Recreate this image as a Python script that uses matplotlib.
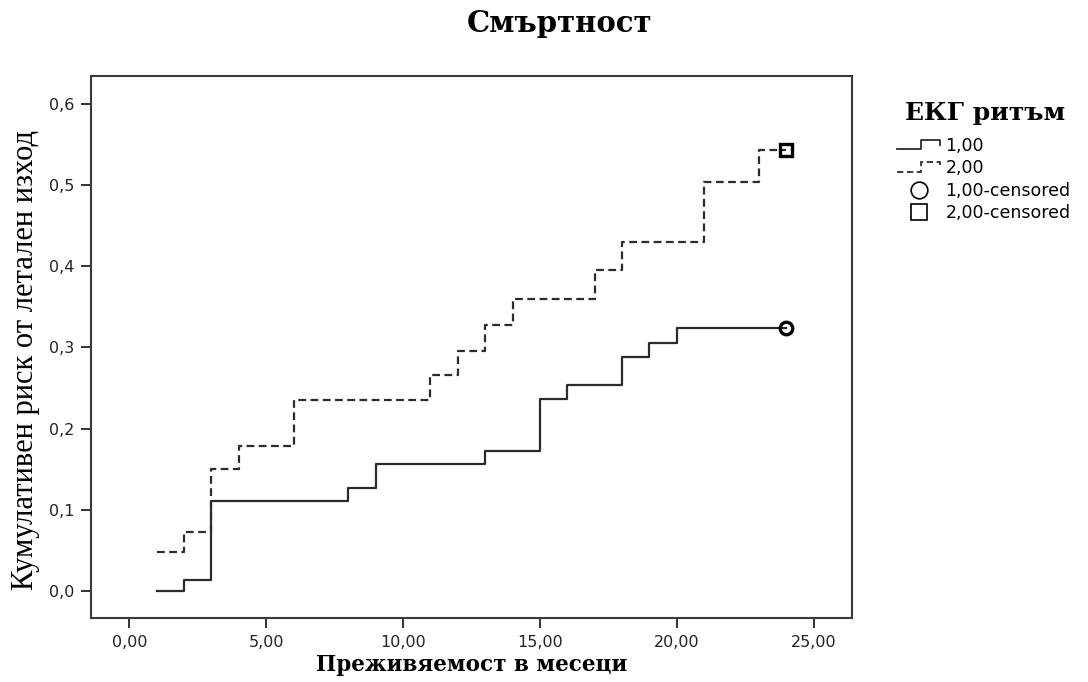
import matplotlib
matplotlib.use("Agg")
import matplotlib.pyplot as plt
from matplotlib.lines import Line2D
from matplotlib.legend_handler import HandlerBase
from matplotlib.ticker import FuncFormatter, MultipleLocator

# Cumulative risk of death by ECG rhythm group (step functions)
time_g1 = [1, 2, 3, 8, 9, 13, 15, 16, 18, 19, 20, 24]
risk_g1 = [0.000, 0.014, 0.111, 0.127, 0.156, 0.173, 0.237, 0.254, 0.288, 0.306, 0.324, 0.324]
censor_g1 = (24, 0.324)

time_g2 = [1, 2, 3, 4, 6, 11, 12, 13, 14, 17, 18, 21, 23, 24]
risk_g2 = [0.048, 0.073, 0.150, 0.179, 0.235, 0.266, 0.296, 0.327, 0.360, 0.395, 0.430, 0.504, 0.543, 0.543]
censor_g2 = (24, 0.543)

group_labels = ["1,00", "2,00", "1,00-censored", "2,00-censored"]

title = "Смъртност"
xlabel = "Преживяемост в месеци"
ylabel = "Кумулативен риск от летален изход"
legend_title = "ЕКГ ритъм"

line_color = "#2b2b2b"
solid_ls = "-"
dashed_ls = (0, (3.5, 2.0))

W, H = 1088, 682
fig = plt.figure(figsize=(W / 100, H / 100), dpi=100)
ax = fig.add_axes([91 / W, 1 - 618 / H, (852 - 91) / W, (618 - 76) / H])

ax.step(time_g1, risk_g1, where="post", color=line_color, lw=1.6, ls=solid_ls)
ax.step(time_g2, risk_g2, where="post", color=line_color, lw=1.6, ls=dashed_ls)
ax.plot(*censor_g1, marker="o", ms=9, mfc="none", mec="black", mew=2.4, ls="none")
ax.plot(*censor_g2, marker="s", ms=9, mfc="none", mec="black", mew=2.4, ls="none")

ax.set_xlim(-1.4, 26.4)
ax.set_ylim(-0.033, 0.634)
ax.xaxis.set_major_locator(MultipleLocator(5))
ax.yaxis.set_major_locator(MultipleLocator(0.1))
ax.xaxis.set_major_formatter(FuncFormatter(lambda v, p: f"{v:.2f}".replace(".", ",")))
ax.yaxis.set_major_formatter(FuncFormatter(lambda v, p: f"{v:.1f}".replace(".", ",")))
ax.tick_params(axis="both", direction="out", length=7, width=1.4, color="#333333",
               labelsize=11.5, labelcolor="#222222", pad=5)
for lab in ax.get_xticklabels() + ax.get_yticklabels():
    lab.set_family("DejaVu Sans")
for sp in ax.spines.values():
    sp.set_color("#3a3a3a")
    sp.set_linewidth(1.5)

fig.text(560 / W, 1 - 24 / H, title, ha="center", va="center", fontsize=21,
         fontweight="bold", family="DejaVu Serif")
ax.set_xlabel(xlabel, fontsize=15.5, fontweight="bold", family="DejaVu Serif")
ax.xaxis.set_label_coords((472 - 91) / 761, -(665 - 618) / 542)
ax.set_ylabel(ylabel, fontsize=22, family="Liberation Serif")
ax.yaxis.set_label_coords((26 - 91) / 761, (618 - 360) / 542)
ax.xaxis.label.set_va("center")
ax.yaxis.label.set_va("center")


class StepHandler(HandlerBase):
    def __init__(self, linestyle, **kw):
        super().__init__(**kw)
        self.linestyle = linestyle

    def create_artists(self, legend, orig_handle, xdescent, ydescent, width,
                       height, fontsize, trans):
        x0, y0 = -xdescent, -ydescent
        xm = x0 + 0.55 * width
        xs = [x0, xm, xm, x0 + width, x0 + width]
        ys = [y0 + 0.15 * height, y0 + 0.15 * height, y0 + 0.9 * height,
              y0 + 0.9 * height, y0 + 0.5 * height]
        ln = Line2D(xs, ys, color=orig_handle.get_color(), ls=self.linestyle, lw=1.3)
        ln.set_transform(trans)
        return [ln]


h1 = Line2D([], [], color=line_color)
h2 = Line2D([], [], color=line_color)
h3 = Line2D([], [], marker="o", ms=12, mfc="none", mec="black", mew=1.2, ls="none")
h4 = Line2D([], [], marker="s", ms=12, mfc="none", mec="black", mew=1.2, ls="none")

fig.text(905 / W, 1 - 113 / H, legend_title, ha="left", va="center", fontsize=18,
         fontweight="bold", family="DejaVu Serif")
leg = fig.legend([h1, h2, h3, h4], group_labels, loc="upper left",
                 bbox_to_anchor=(897 / W, 1 - 137 / H), frameon=False,
                 handler_map={h1: StepHandler(solid_ls), h2: StepHandler(dashed_ls)},
                 prop={"family": "DejaVu Sans", "size": 12.5},
                 handlelength=2.5, handletextpad=0.3, labelspacing=0.25,
                 borderaxespad=0, borderpad=0)

fig.savefig("out.png", dpi=100)
